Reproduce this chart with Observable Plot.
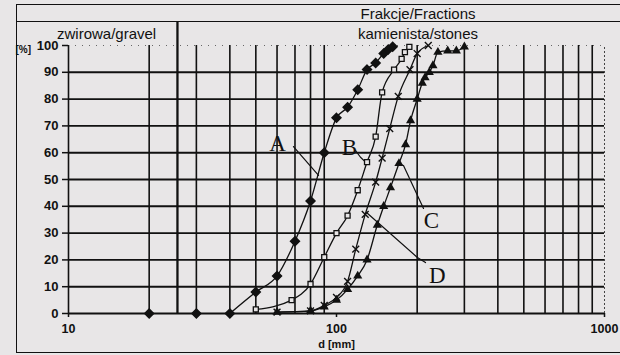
<!DOCTYPE html>
<html><head><meta charset="utf-8">
<script src="https://cdn.jsdelivr.net/npm/d3@7"></script>
<script src="https://cdn.jsdelivr.net/npm/@observablehq/plot@0.6"></script>
<style>
body{margin:0;background:#e8e6e7;}
#wrap{position:relative;width:620px;height:355px;background:#e8e6e7;overflow:hidden;font-family:"Liberation Sans",Arial,sans-serif;}
#wrap svg{display:block;}
.frame{position:absolute;left:16px;top:4px;width:604px;height:349px;border-left:1.5px solid #111;border-top:1.5px solid #111;border-bottom:1.5px solid #111;box-sizing:border-box;}
.sep{position:absolute;left:16px;top:21px;width:604px;height:0;border-top:1.5px solid #111;}
.t{position:absolute;font-size:15px;color:#111;white-space:nowrap;line-height:1;}
</style></head>
<body><div id="wrap"></div>
<script>
// ---- data ----
const seriesA_d = [20,30,40,50,60,70,80,90,100,110,120,130,140,150,156,162];
const seriesA_p = [0,0,0,8,14,27,42,60,73,77,83.5,91,93.5,97,98.5,99.5];
const seriesB_d = [50,68,80,90,100,110,120,130,140,148,164,175,180,187];
const seriesB_p = [1.5,5,11,21,30,36.5,46,56.5,66,82.5,91,95,97.5,99.5];
const seriesC_d = [60,80,90,100,110,120,130,142,150,159,171,181,189,200,209,214,222,229,239,260,280,300];
const seriesC_p = [0.5,1,2.5,5,9,14,20,33,40,47,56,63,72,80,86,88,90,92.5,97.5,98,98,99.5];
const seriesD_d = [60,80,90,100,110,118,128,140,148,158,170,188,200,220];
const seriesD_p = [0.5,1,3,6,12,24,37,49,58,69,81,91,97,100];

const xTickValues = [10,100,1000];
const yTickValues = [0,10,20,30,40,50,60,70,80,90,100];
const xGridValues = [20,30,40,50,60,70,80,90,200,300,400,500,600,700,800,900];
const yGridValues = [0,10,20,30,40,50,60,70,80,90];
const fractionBoundary = [25.5];   // gravel / stones boundary [mm]
const headerLevel = 108.6;          // top of boundary line (header separator) in % units

const labelNames = ["A","B","C","D"];
const labelD = [60.3,111.8,226,238];
const labelP = [63.4,61.9,34.7,14.2];
const leaderA_d = [69.1,85.7],        leaderA_p = [62.3,51.5];
const leaderB_d = [117.8,122.9,128.3], leaderB_p = [60.8,58.3,56.5];
const leaderC_d = [168.9,177.8,211.2], leaderC_p = [56.0,55.2,39.2];
const leaderD_d = [129.4,200.4,214.8], leaderD_p = [37.7,20.9,19.0];

// ---- tables ----
const toRows = (name, ds, ps) => ds.map((d,i)=>({s:name,d,p:ps[i]}));
const A = toRows("A", seriesA_d, seriesA_p);
const B = toRows("B", seriesB_d, seriesB_p);
const C = toRows("C", seriesC_d, seriesC_p);
const D = toRows("D", seriesD_d, seriesD_p);
const allSeries = [...A.filter(r=>r.d>=40), ...B, ...C, ...D];
const labels = labelNames.map((n,i)=>({n,d:labelD[i],p:labelP[i]}));
const leaders = [...toRows("A",leaderA_d,leaderA_p),...toRows("B",leaderB_d,leaderB_p),
                 ...toRows("C",leaderC_d,leaderC_p),...toRows("D",leaderD_d,leaderD_p)];

const ink = "#111";
const chart = Plot.plot({
  width: 620, height: 355,
  marginLeft: 68, marginRight: 16, marginTop: 45, marginBottom: 42,
  style: {background:"transparent", color: ink, fontFamily:"Liberation Sans, Arial, sans-serif"},
  x: {type:"log", domain:[10,1000]},
  y: {domain:[0,100]},
  marks: [
    Plot.ruleY(yGridValues, {x1:10, x2:1000, stroke:ink, strokeWidth:1.9}),
    Plot.ruleY([100], {x1:10, x2:1000, stroke:"#666", strokeDasharray:"1,6"}),
    Plot.ruleX(xGridValues, {y1:0, y2:100, stroke:ink, strokeWidth:1.6}),
    Plot.ruleX([1000], {y1:0, y2:100, stroke:"#444", strokeDasharray:"2,2"}),
    Plot.ruleX([10], {y1:0, y2:100, stroke:ink, strokeWidth:1.6}),
    Plot.ruleX(fractionBoundary, {y1:0, y2:headerLevel, stroke:ink, strokeWidth:2.3}),
    Plot.axisY(yTickValues, {anchor:"left", tickSize:6, tickPadding:4, label:null, fontSize:13, fontWeight:"bold", strokeWidth:1.5}),
    Plot.axisX(xTickValues, {anchor:"bottom", tickSize:4, tickPadding:7, label:null, tickFormat:d=>String(d), fontSize:12.5, fontWeight:"bold", strokeWidth:1.5}),
    Plot.text(["[%]"], {frameAnchor:"top-left", dx:-53, textAnchor:"start", fontSize:10, fontWeight:"bold"}),
    Plot.text(["d [mm]"], {frameAnchor:"bottom", dy:34, fontSize:11, fontWeight:"bold"}),
    Plot.line(allSeries, {x:"d", y:"p", z:"s", stroke:ink, strokeWidth:1.3, curve:"monotone-x"}),
    Plot.line(leaders, {x:"d", y:"p", z:"s", stroke:ink, strokeWidth:1.2}),
    Plot.dot(A, {x:"d", y:"p", symbol:"diamond2", r:4, fill:ink, stroke:ink}),
    Plot.dot(B, {x:"d", y:"p", symbol:"square2", r:3.2, fill:"#e8e6e7", stroke:ink, strokeWidth:1.3}),
    Plot.dot(C, {x:"d", y:"p", symbol:"triangle", r:3.4, fill:ink}),
    Plot.dot(D, {x:"d", y:"p", symbol:"times", r:3.2, stroke:ink, strokeWidth:1.4}),
    Plot.text(labels, {x:"d", y:"p", text:"n", fontFamily:"Liberation Serif, Times New Roman, serif", fontSize:23, fill:ink})
  ]
});
const wrap = document.getElementById("wrap");
wrap.appendChild(chart);
wrap.insertAdjacentHTML("beforeend", `
  <div class="frame"></div>
  <div class="sep"></div>
  <div class="t" style="left:418px;top:6px;transform:translateX(-50%)">Frakcje/Fractions</div>
  <div class="t" style="left:418px;top:26px;transform:translateX(-50%)">kamienista/stones</div>
  <div class="t" style="left:57px;top:26px">zwirowa/gravel</div>`);
</script>
</body></html>
